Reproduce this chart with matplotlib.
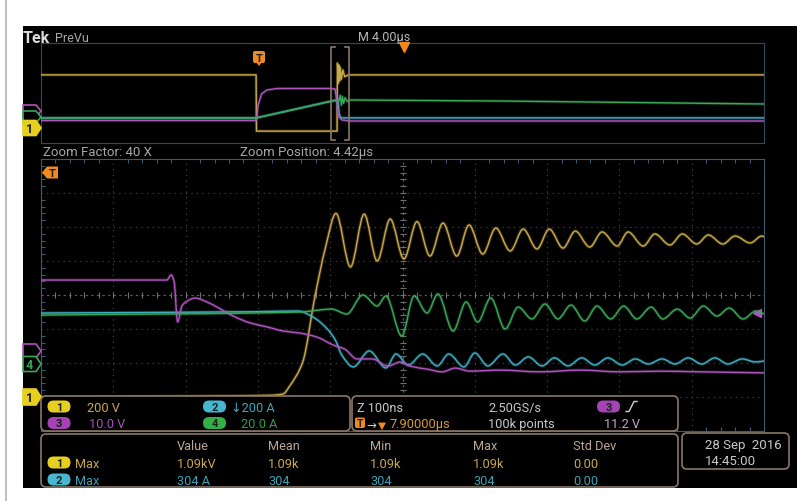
import numpy as np
import matplotlib
matplotlib.use('Agg')
import matplotlib.pyplot as plt
from matplotlib.path import Path
from matplotlib.patches import PathPatch, FancyBboxPatch, Polygon, Rectangle

plt.rcParams['font.family'] = ['Roboto', 'DejaVu Sans']

# ---- zoom window, time in ns from left edge (Z 100 ns/div) ----
ch1_t = [0, 317, 335, 344, 362, 379, 393, 408, 428, 447, 465, 483, 502, 520, 538, 556, 575,
         592, 611, 629, 649, 667, 686, 703, 722, 739, 759, 776, 797, 812, 833, 849, 870,
         887, 907, 923, 943, 960, 981, 997, 1000]
ch1_v = [10, 20, 28, 75, 216, 604, 881, 1090, 775, 1086, 810, 1057, 822, 1042, 839, 1033, 839,
         1022, 851, 1004, 869, 998, 881, 998, 886, 986, 892, 981, 898, 981, 898, 969, 904,
         969, 910, 963, 910, 957, 916, 957, 951]

ch2_t = [0, 300, 355, 376, 396, 407, 416, 432, 454, 477, 491, 508, 528, 548, 564, 585, 600,
         618, 639, 656, 674, 693, 710, 729, 748, 766, 784, 804, 822, 840, 859, 877, 895,
         914, 932, 950, 970, 988, 1000]
ch2_a = [292, 300, 304, 269, 198, 134, 45, -25, 69, -31, 51, -14, 51, -19, 51, -25, 57,
         -19, 51, -14, 34, -19, 28, -19, 28, -14, 28, -14, 22, -8, 22, -8, 28,
         -8, 28, -8, 22, 4, 10]

ch3_t = [0, 174, 180, 184, 189, 195, 202, 213, 230, 243, 266, 289, 313, 335, 358, 382, 404,
         420, 437, 458, 480, 497, 510, 534, 555, 573, 593, 635, 690, 746, 801, 856, 912, 1000]
ch3_v = [20.9, 20.9, 22.4, 20.6, 8.6, 13.3, 14.7, 15.6, 14.4, 13.0, 10.3, 8.3, 7.1, 5.9, 5.3,
         4.1, 1.8, 0.6, -2.3, -2.3, -4.4, -3.2, -4.4, -5.3, -6.1, -5.0, -5.9, -5.6, -6.1,
         -5.6, -6.1, -5.9, -6.1, -6.4]

ch4_t = [0, 358, 402, 423, 445, 465, 477, 499, 516, 534, 549, 570, 588, 604, 622, 642, 660,
         679, 697, 715, 733, 752, 769, 788, 806, 824, 844, 860, 880, 898, 916, 935, 952,
         971, 989, 1000]
ch4_a = [28.8, 30.6, 32.3, 29.4, 40.6, 34.1, 40.0, 16.5, 40.0, 30.0, 41.2, 19.4, 36.5, 24.7,
         38.8, 20.6, 33.5, 26.5, 35.3, 26.5, 34.7, 25.3, 34.1, 26.5, 34.1, 26.5, 33.5, 26.5,
         32.3, 27.0, 34.1, 28.2, 32.9, 26.5, 31.2, 29.4]

# ---- full record preview, time in us (M 4.00 us/div) ----
pv1_t = [0, 11.9, 11.92, 16.38, 16.40, 16.44, 16.48, 16.52, 16.56, 16.62, 16.70, 16.80, 17.0, 40]
pv1_v = [900, 900, 0, 0, 1090, 760, 1060, 800, 1020, 830, 980, 870, 900, 900]
pv2_t = [0, 11.9, 16.1, 16.43, 16.5, 16.6, 40]
pv2_a = [0, 0, 270, 294, 60, 0, 0]
pv3_t = [0, 11.9, 11.95, 12.0, 12.2, 12.5, 13.06, 16.0, 16.27, 16.38, 16.43, 16.65, 17.1, 40]
pv3_v = [-5.5, -5.5, -2.7, 6.1, 15.7, 18.9, 20.1, 20.1, 19.7, 9.3, -1.9, -5.1, -5.9, -5.9]
pv4_t = [0, 11.9, 16.1, 16.5, 16.56, 16.62, 16.68, 16.74, 16.82, 16.95, 17.1, 25.4, 40]
pv4_a = [0.5, 0.5, 27.8, 29, 37, 21, 35, 24, 33, 27, 29.4, 27.8, 23.0]

trig_level = 11.2  # ch3, volts

# vertical settings per channel: units/div and ground position in divisions
SCALE = {1: 200, 2: 200, 3: 10, 4: 20}
POS = {1: -3.05, 2: -1.99, 3: -1.65, 4: -2.03}
TRACE = {1: '#caa94a', 2: '#3fb0c4', 3: '#b054c0', 4: '#3aa85a'}
BADGE = {1: '#e6cf1e', 2: '#45b8d0', 3: '#a444b4', 4: '#33b045'}
FRAME = '#8a7868'
ORANGE = '#f08a20'

W, H = 797, 502
fig = plt.figure(figsize=(W / 100, H / 100), dpi=100)
fig.patch.set_facecolor('white')

under = fig.add_axes([0, 0, 1, 1])
under.set_xlim(0, W)
under.set_ylim(H, 0)
under.axis('off')
under.add_patch(Rectangle((23, 27), W - 23, 462, fc='black', ec='none'))
under.plot([6, 6], [0, H], color='#b4b4b4', lw=1.2)


def px_axes(x0, y0, x1, y1):
    ax = fig.add_axes([x0 / W, 1 - y1 / H, (x1 - x0) / W, (y1 - y0) / H])
    ax.set_facecolor('black')
    ax.set_ylim(-4, 4)
    return ax


def channel_axes(ax, ch):
    a = ax.twinx()
    a.set_ylim((-4 - POS[ch]) * SCALE[ch], (4 - POS[ch]) * SCALE[ch])
    a.axis('off')
    return a


def slopes(x, y):
    # monotone (Fritsch-Carlson) tangents: flat at peaks, no overshoot
    h = np.diff(x)
    d = np.diff(y) / h
    m = np.zeros_like(y)
    m[0], m[-1] = d[0], d[-1]
    for k in range(1, len(x) - 1):
        if d[k - 1] * d[k] > 0:
            w1 = 2 * h[k] + h[k - 1]
            w2 = h[k] + 2 * h[k - 1]
            m[k] = (w1 + w2) / (w1 / d[k - 1] + w2 / d[k])
    return m


def smooth(ax, x, y, color):
    x = np.asarray(x, float)
    y = np.asarray(y, float)
    m = slopes(x, y)
    verts = [(x[0], y[0])]
    for i in range(len(x) - 1):
        h = x[i + 1] - x[i]
        verts += [(x[i] + h / 3, y[i] + m[i] * h / 3),
                  (x[i + 1] - h / 3, y[i + 1] - m[i + 1] * h / 3),
                  (x[i + 1], y[i + 1])]
    codes = [Path.MOVETO] + [Path.CURVE4] * (len(verts) - 1)
    p = Path(verts, codes)
    ax.add_patch(PathPatch(p, fc='none', ec=color, lw=2.4, alpha=0.25))
    ax.add_patch(PathPatch(p, fc='none', ec=color, lw=1.0))


# preview panel
pv = px_axes(41, 44, 764, 144)
pv.set_xlim(0, 40)
pv.set_xticks([])
pv.set_yticks([])
for s in pv.spines.values():
    s.set_color('#2e4a5c')
for ch, t, v in [(1, pv1_t, pv1_v), (2, pv2_t, pv2_a), (3, pv3_t, pv3_v), (4, pv4_t, pv4_a)]:
    a = channel_axes(pv, ch)
    a.plot(t, v, color=TRACE[ch], lw=2.2, alpha=0.25)
    a.plot(t, v, color=TRACE[ch], lw=1.0)

# zoom panel with graticule
main = px_axes(41, 160, 764, 432)
main.set_xlim(0, 1000)
main.set_xticks(np.arange(0, 1001, 100))
main.set_yticks(np.arange(-4, 5, 1))
main.set_xticks(np.arange(0, 1001, 20), minor=True)
main.set_yticks(np.arange(-4, 4.01, 0.2), minor=True)
main.tick_params(which='both', direction='in', top=True, right=True,
                 labelbottom=False, labelleft=False, color='#3a5a6e')
main.tick_params(which='major', length=0)
main.tick_params(which='minor', length=3, width=0.8)
main.grid(True, which='major', color='#4b4b4b', lw=0.8, ls=(0, (1, 4)))
for s in main.spines.values():
    s.set_color('#3a5a6e')
main.axhline(0, color='#5c5c5c', lw=0.8, ls=(0, (2, 3)))
main.axvline(500, color='#5c5c5c', lw=0.8, ls=(0, (2, 3)))
main.plot(np.arange(0, 1001, 20), np.zeros(51), ls='none', marker='|', ms=4, mew=0.8, color='#707070')
main.plot(np.full(41, 500), np.arange(-4, 4.01, 0.2), ls='none', marker='_', ms=4, mew=0.8, color='#707070')

series = [(1, ch1_t, ch1_v), (2, ch2_t, ch2_a), (3, ch3_t, ch3_v), (4, ch4_t, ch4_a)]
for ch, t, v in series:
    a = channel_axes(main, ch)
    smooth(a, t, v, TRACE[ch])
    if ch == 3:
        a.plot(991, trig_level, marker='<', ms=6, color=TRACE[3], clip_on=False)

# readouts, labels and markers on top
over = fig.add_axes([0, 0, 1, 1])
over.set_xlim(0, W)
over.set_ylim(H, 0)
over.axis('off')


def txt(x, y, s, color, size=9.2, **kw):
    over.text(x, y, s, color=color, fontsize=size, va='baseline', ha='left', **kw)


def box(x0, y0, x1, y1):
    over.add_patch(FancyBboxPatch((x0, y0), x1 - x0, y1 - y0,
                                  boxstyle='round,pad=0,rounding_size=5',
                                  fc='black', ec=FRAME, lw=1.2))


def badge(xc, yc, n, color):
    over.add_patch(FancyBboxPatch((xc - 11.5, yc - 6), 23, 12,
                                  boxstyle='round,pad=0,rounding_size=6', fc=color, ec='none'))
    over.text(xc, yc + 0.5, str(n), ha='center', va='center', fontsize=8,
              fontweight='bold', color='#1e1e1e')


def chan_tag(x0, x1, yc, h, color, label, filled):
    pts = [(x0, yc - h / 2), (x1 - 5, yc - h / 2), (x1, yc), (x1 - 5, yc + h / 2), (x0, yc + h / 2)]
    over.add_patch(Polygon(pts, closed=True, fc=color if filled else 'black', ec=color, lw=1.2))
    if label:
        over.text((x0 + x1 - 5) / 2, yc + 0.5, label, ha='center', va='center', fontsize=9,
                  fontweight='bold', color='#1e1e1e' if filled else color)


# header
txt(23, 43, 'Tek', '#dcdcdc', size=11.5, fontweight='bold')
txt(55, 42, 'PreVu', '#a8a8a8', size=9)
txt(358, 41, 'M 4.00µs', '#b8b8b8', size=9)
over.plot(404, 47.5, marker='v', ms=7, color=ORANGE)
txt(43, 156.5, 'Zoom Factor: 40 X', '#a8a8a8', size=9.5)
txt(240, 156.5, 'Zoom Position: 4.42µs', '#a8a8a8', size=9.5)

# zoom bracket on the preview
over.plot([335, 331.5, 331.5, 335], [47.5, 47.5, 140.5, 140.5], color=FRAME, lw=1.2)
over.plot([345, 349, 349, 345], [47.5, 47.5, 140.5, 140.5], color=FRAME, lw=1.2)

# trigger markers
over.add_patch(FancyBboxPatch((253, 52), 12, 12, boxstyle='round,pad=0,rounding_size=2', fc=ORANGE, ec='none'))
over.add_patch(Polygon([(256, 63), (262, 63), (259, 67)], closed=True, fc=ORANGE, ec='none'))
over.text(259, 58.5, 'T', ha='center', va='center', fontsize=8, fontweight='bold', color='#1e1e1e')
over.add_patch(Polygon([(42, 173.5), (47, 167.5), (58, 167.5), (58, 179.5), (47, 179.5)],
                       closed=True, fc=ORANGE, ec='none'))
over.text(52.5, 174, 'T', ha='center', va='center', fontsize=8, fontweight='bold', color='#1e1e1e')

# channel ground markers
chan_tag(23, 41, 112, 12, TRACE[3], '', False)
chan_tag(23, 41, 118, 12, TRACE[4], '', False)
chan_tag(23, 41, 129, 15, BADGE[1], '1', True)
chan_tag(23, 41, 352, 14, TRACE[3], '', False)
chan_tag(23, 41, 365, 15, TRACE[4], '4', False)
chan_tag(23, 41, 398, 16, BADGE[1], '1', True)

# vertical settings readout
box(41, 397, 350, 432)
badge(59, 407.5, 1, BADGE[1])
txt(87, 412, '200 V', '#c8a84e')
badge(59, 424, 3, BADGE[3])
txt(89, 428.5, '10.0 V', '#a452b8')
badge(214.5, 407.5, 2, BADGE[2])
txt(231, 412, '↓200 A', '#3aa8c0')
badge(214.5, 424, 4, BADGE[4])
txt(241, 428.5, '20.0 A', '#2f9a50')

# horizontal / trigger readout
box(352, 397, 678, 432)
txt(357, 412, 'Z 100ns', '#c8c8c8')
txt(488, 412, '2.50GS/s', '#c8c8c8')
badge(608.5, 407.5, 3, BADGE[3])
over.plot([626, 629, 634, 637], [412.5, 412.5, 402.5, 402.5], color='#d0d0d0', lw=1)
over.add_patch(FancyBboxPatch((355, 418.5), 10, 10.5, boxstyle='round,pad=0,rounding_size=2', fc=ORANGE, ec='none'))
over.text(360, 424, 'T', ha='center', va='center', fontsize=7.5, fontweight='bold', color='#1e1e1e')
txt(366, 428.5, '→', '#c8c8c8', size=8.5)
txt(378, 428.5, '▼', ORANGE, size=7.5)
txt(390, 428.5, '7.90000µs', '#d89a3c')
txt(488, 428.5, '100k points', '#c8c8c8')
txt(604, 428.5, f'{trig_level:.1f} V', '#c8a0d8')

# measurements
box(41, 435, 678, 488)
cols = [177, 268, 370, 473, 573]
for x, s in zip(cols, ['Value', 'Mean', 'Min', 'Max', 'Std Dev']):
    txt(x, 450, s, '#b9a595')
v1 = max(ch1_v) / 1000
a2 = max(ch2_a)
row1 = [f'{v1:.2f}kV', f'{v1:.2f}k', f'{v1:.2f}k', f'{v1:.2f}k', '0.00']
row2 = [f'{a2:.0f} A', f'{a2:.0f}', f'{a2:.0f}', f'{a2:.0f}', '0.00']
badge(59, 463.5, 1, BADGE[1])
txt(75, 468, 'Max', '#c8a84e')
badge(59, 480.5, 2, BADGE[2])
txt(75, 485, 'Max', '#3aa0b4')
for x, s1, s2 in zip(cols, row1, row2):
    txt(x, 468, s1, '#c8a84e')
    txt(x, 485, s2, '#3aa0b4')

# date / time
box(682, 434, 789, 470)
txt(705, 449, '28 Sep  2016', '#c8c8c8', size=9.5)
txt(705, 465, '14:45:00', '#c8c8c8', size=9.5)

fig.savefig('out.png', dpi=100, facecolor='white')
